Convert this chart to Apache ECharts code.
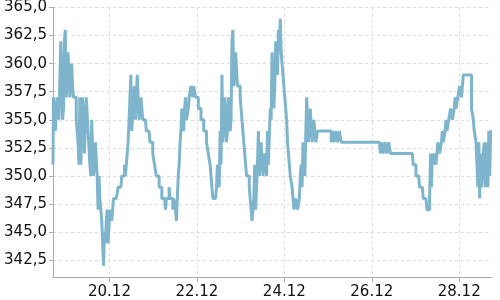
<!DOCTYPE html>
<html>
<head>
<meta charset="utf-8">
<script src="https://cdn.jsdelivr.net/npm/echarts@6/dist/echarts.min.js"></script>
<style>html,body{margin:0;padding:0;background:#fff}#c{width:500px;height:300px}</style>
</head>
<body>
<div id="c"></div>
<script>
// readings every full hour, first one at 18.12 17:00
const startTime = '2023-12-18T17:00:00';
const valuesOnHour = [
  351,357,354,357,355,362,356,363,357,361,357,358,
  357,355,353,357,351,357,352,357,354,350,355,350,
  353,347,348,346,342,344,347,344,347,346,348,348,
  349,349,350,350,350,351,355,359,354,358,355,359,
  355,357,355,355,354,354,353,352,351,350,350,349,
  348,348,347,348,349,348,347,348,346,350,353,356,
  354,357,355,357,358,357,358,357,356,356,355,354,
  354,353,352,350,348,348,349,351,354,359,353,357,
  354,357,355,363,358,361,358,357,355,353,351,350,
  349,347,346,351,347,354,350,353,350,352,354,351,
  355,361,358,362,363,364,360,358,356,353,351,350,
  348,347,348,347,350,349,353,350,357,353,356,353,
  355,353,354,354,354,354,354,354,354,353,354,353,
  354,353,354,353,353,353,353,353,353,353,353,353,
  353,353,353,353,353,353,353,353,353,353,353,353,
  352,353,352,353,352,353,352,352,352,352,352,352,
  352,352,352,352,352,352,351,351,350,350,349,349,
  348,348,347,348,349,351,352,352,353,352,354,353,
  355,354,355,356,355,357,356,357,358,358,359,359,
  359,359,356,355,354,353,353,352,349,353,349,349,
  350,354
];
// readings at half past each hour
const valuesHalfPast = [
  357,354,357,355,362,355,362,357,361,357,360,357,
  357,355,351,351,357,352,357,354,351,355,350,353,
  350,350,347,344,345,346,344,347,346,348,348,348,
  349,349,350,351,351,353,357,354,357,355,359,355,
  357,355,355,354,354,353,353,352,351,350,349,349,
  348,348,348,348,348,348,348,347,348,351,354,355,
  356,355,356,357,358,358,357,357,356,355,355,354,
  353,352,351,349,348,348,351,349,351,353,357,353,
  357,354,362,358,361,358,358,356,354,352,350,350,
  348,346,348,347,351,350,353,350,352,350,351,356,
  361,356,362,359,361,361,359,357,355,352,350,349,
  347,348,347,348,351,353,350,357,353,356,353,355,
  353,354,354,354,354,354,354,354,354,354,353,354,
  353,354,353,353,353,353,353,353,353,353,353,353,
  353,353,353,353,353,353,353,353,353,353,353,353,
  353,352,353,352,353,352,352,352,352,352,352,352,
  352,352,352,352,352,352,351,350,350,349,349,348,
  348,347,347,352,352,352,351,353,352,353,353,354,
  354,355,356,355,356,356,357,358,357,359,359,359,
  359,359,356,354,353,349,348,349,352,349,353,354,
  354
];
const xTickDates = ['2023-12-20','2023-12-22','2023-12-24','2023-12-26','2023-12-28'];
const yTicks = [342.5,345,347.5,350,352.5,355,357.5,360,362.5,365];

const HOUR = 3600000;
const t0 = new Date(startTime).getTime();
const seriesData = [];
valuesOnHour.forEach((v, i) => {
  seriesData.push([t0 + i * HOUR, v]);
  if (i < valuesHalfPast.length) seriesData.push([t0 + i * HOUR + HOUR / 2, valuesHalfPast[i]]);
});
const xTickValues = xTickDates.map(d => new Date(d + 'T00:00:00').getTime());

const chart = echarts.init(document.getElementById('c'), null, {renderer: 'canvas'});
const labelFont = {fontFamily: 'DejaVu Sans', fontSize: 15, color: '#111'};
chart.setOption({
  animation: false,
  backgroundColor: '#fff',
  grid: {left: 53, right: 8, top: 6, bottom: 23, containLabel: false},
  xAxis: {
    type: 'value',
    min: seriesData[0][0],
    max: seriesData[seriesData.length - 1][0],
    axisLine: {lineStyle: {color: '#aaa', width: 1}},
    axisTick: {show: true, length: 5, lineStyle: {color: '#aaa'}, customValues: xTickValues},
    axisLabel: Object.assign({}, labelFont, {
      customValues: xTickValues,
      margin: 8,
      formatter: function (v) {
        const d = new Date(v);
        return String(d.getDate()).padStart(2, '0') + '.' + String(d.getMonth() + 1).padStart(2, '0');
      }
    }),
    splitLine: {show: true, lineStyle: {color: '#ddd', type: [3, 3], width: 1}}
  },
  yAxis: {
    type: 'value',
    min: 341,
    max: 365,
    axisLine: {show: true, lineStyle: {color: '#aaa', width: 1}},
    axisTick: {show: true, length: 4, lineStyle: {color: '#aaa'}, customValues: yTicks},
    axisLabel: Object.assign({}, labelFont, {
      customValues: yTicks,
      margin: 6,
      formatter: function (v) { return Number(v).toFixed(1).replace('.', ','); }
    }),
    splitLine: {show: true, lineStyle: {color: '#ddd', type: [3, 3], width: 1}}
  },
  series: [{
    type: 'line',
    data: seriesData,
    step: 'middle',
    showSymbol: false,
    symbol: 'none',
    lineStyle: {color: '#7eb5cc', width: 3},
    silent: true
  }]
});
</script>
</body>
</html>
